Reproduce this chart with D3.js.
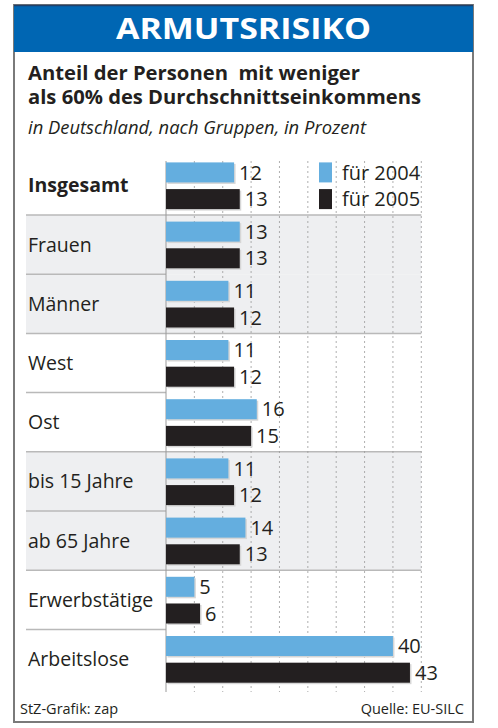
<!DOCTYPE html>
<html>
<head>
<meta charset="utf-8">
<script src="https://cdn.jsdelivr.net/npm/d3@7"></script>
<style>
  body { margin: 0; background: #fff; }
  text { font-family: "Open Sans", "Noto Sans", sans-serif; fill: #231f20; white-space: pre; }
</style>
</head>
<body>
<svg width="498" height="728"></svg>
<script>
// data
const categories = ['Insgesamt', 'Frauen', 'Männer', 'West', 'Ost', 'bis 15 Jahre', 'ab 65 Jahre', 'Erwerbstätige', 'Arbeitslose']
const values2004 = [12, 13, 11, 11, 16, 11, 14, 5, 40]
const values2005 = [13, 13, 12, 12, 15, 12, 13, 6, 43]
const seriesNames = ['für 2004', 'für 2005']
const gridTicks = [5, 10, 15, 20, 25, 30, 35, 40, 45]
const shadedRows = ['Frauen', 'Männer', 'bis 15 Jahre', 'ab 65 Jahre']

const svg = d3.select('svg')
const colors = ['#64aedf', '#231f20']

// frame + header
svg.append('rect').attr('x', 14).attr('y', 5).attr('width', 459).attr('height', 717)
  .attr('fill', '#fff').attr('stroke', '#7a7a7a').attr('stroke-width', 2)
svg.append('rect').attr('x', 14).attr('y', 5).attr('width', 459).attr('height', 47).attr('fill', '#0066b3')
svg.append('line').attr('x1', 14).attr('x2', 473).attr('y1', 5.5).attr('y2', 5.5).attr('stroke', '#20406a').attr('stroke-width', 1.5)

svg.append('text').attr('x', 116).attr('y', 38.5)
  .attr('textLength', 255).attr('lengthAdjust', 'spacingAndGlyphs')
  .style('font-size', '28.5px').style('font-weight', 700).style('fill', '#fff')
  .text('ARMUTSRISIKO')

svg.append('text').attr('x', 28).attr('y', 79.5).style('font-size', '20px').style('font-weight', 700)
  .attr('textLength', 332).attr('lengthAdjust', 'spacingAndGlyphs')
  .text('Anteil der Personen  mit weniger')
svg.append('text').attr('x', 28).attr('y', 104).style('font-size', '20px').style('font-weight', 700)
  .attr('textLength', 393).attr('lengthAdjust', 'spacingAndGlyphs')
  .text('als 60% des Durchschnittseinkommens')
svg.append('text').attr('x', 28).attr('y', 133.5).style('font-size', '18px').style('font-style', 'italic')
  .attr('textLength', 338).attr('lengthAdjust', 'spacingAndGlyphs')
  .text('in Deutschland, nach Gruppen, in Prozent')

// scales
const y = d3.scaleBand().domain(categories).range([155.8, 688.6])
const yInner = d3.scaleBand().domain(seriesNames).range([6.6, 53.3]).paddingInner(0.25)
const x = d3.scaleLinear().domain([0, 45]).range([166, 421.3])

const rows = svg.append('g')

// shaded background rows
rows.selectAll('rect.shade')
  .data(categories.filter(c => shadedRows.includes(c)))
  .join('rect')
  .attr('x', 26).attr('y', d => y(d)).attr('width', x(45) - 26).attr('height', y.bandwidth())
  .attr('fill', '#eeeff1')

// row separators
const seps = categories.slice(1).map((c, i) => {
  const prevShaded = shadedRows.includes(categories[i])
  const shaded = shadedRows.includes(c)
  return { y: y(c), full: prevShaded !== shaded }
})
rows.selectAll('line.sep')
  .data(seps)
  .join('line')
  .attr('x1', 26).attr('x2', d => d.full ? x(45) : x(0))
  .attr('y1', d => d.y).attr('y2', d => d.y)
  .attr('stroke', '#b9b9b9').attr('stroke-width', 1.5)

// grid
svg.append('g').selectAll('line')
  .data(gridTicks)
  .join('line')
  .attr('x1', d => x(d)).attr('x2', d => x(d))
  .attr('y1', 161).attr('y2', 692)
  .attr('stroke', '#9a9a9a').attr('stroke-width', 0.8).attr('stroke-dasharray', '2,3')
svg.append('line').attr('x1', x(0)).attr('x2', x(0)).attr('y1', 161).attr('y2', 692)
  .attr('stroke', '#9a9a9a').attr('stroke-width', 1)

// category labels
svg.append('g').selectAll('text')
  .data(categories)
  .join('text')
  .attr('x', 28)
  .attr('y', d => y(d) + y.bandwidth() / 2 + 7)
  .style('font-size', '19.5px')
  .style('font-weight', (d, i) => i === 0 ? 700 : 400)
  .text(d => d)

// bars
const barData = []
categories.forEach((c, i) => {
  barData.push({ cat: c, s: seriesNames[0], v: values2004[i], color: colors[0] })
  barData.push({ cat: c, s: seriesNames[1], v: values2005[i], color: colors[1] })
})

const bars = svg.append('g')
bars.selectAll('rect.shadow')
  .data(barData)
  .join('rect')
  .attr('x', x(0) + 1.5)
  .attr('y', d => y(d.cat) + yInner(d.s) + 1.5)
  .attr('width', d => x(d.v) - x(0))
  .attr('height', yInner.bandwidth())
  .attr('fill', '#d6d6d6')
bars.selectAll('rect.bar')
  .data(barData)
  .join('rect')
  .attr('x', x(0))
  .attr('y', d => y(d.cat) + yInner(d.s))
  .attr('width', d => x(d.v) - x(0))
  .attr('height', yInner.bandwidth())
  .attr('fill', d => d.color)

bars.selectAll('text')
  .data(barData)
  .join('text')
  .attr('x', d => x(d.v) + 5)
  .attr('y', d => y(d.cat) + yInner(d.s) + yInner.bandwidth() / 2 + 7.2)
  .style('font-size', '20px')
  .text(d => d.v)

// legend
const legend = svg.append('g')
seriesNames.forEach((s, i) => {
  const yy = y(categories[0]) + yInner(s)
  legend.append('rect').attr('x', 319).attr('y', yy).attr('width', 13).attr('height', yInner.bandwidth())
    .attr('fill', colors[i])
  legend.append('text').attr('x', 342).attr('y', yy + yInner.bandwidth() / 2 + 7.2)
    .style('font-size', '20px').text(s)
})

// footer
svg.append('text').attr('x', 20).attr('y', 713.5).style('font-size', '14.5px').text('StZ-Grafik: zap')
svg.append('text').attr('x', 464).attr('y', 713.5).attr('text-anchor', 'end').style('font-size', '14.5px')
  .text('Quelle: EU-SILC')
</script>
</body>
</html>
